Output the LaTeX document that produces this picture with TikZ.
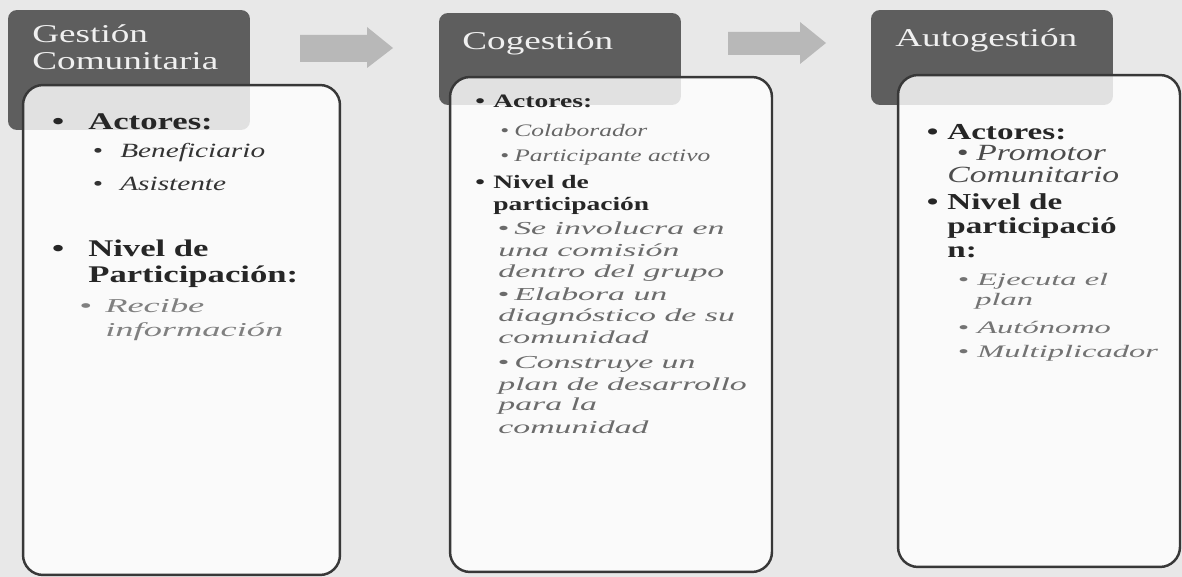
\documentclass[tikz,border=0pt]{standalone}
\usepackage{fontspec}
\setmainfont[FakeStretch=1.45]{Liberation Serif}
\newfontfamily\wideserif[FakeStretch=1.85]{Liberation Serif}
\usepackage{tikz}
\usetikzlibrary{positioning}

\begin{document}
\begin{tikzpicture}[x=0.02cm, y=-0.02cm,
        head/.style={rectangle, fill=black!63, rounded corners=0.18cm, minimum width=4.84cm},
        body/.style={rectangle, draw=black!78, line width=1.4pt, fill=white, fill opacity=0.82, rounded corners=0.4cm},
        txt/.style={anchor=base west, inner sep=0pt},
        hdtext/.style={txt, text=black!6, font=\fontsize{14.6}{16}\selectfont},
        bolda/.style={txt, text=black!85, font=\bfseries\fontsize{13.6}{16}\selectfont},
        boldb/.style={txt, text=black!85, font=\bfseries\fontsize{10.8}{13}\selectfont},
        boldc/.style={txt, text=black!85, font=\bfseries\fontsize{13}{15}\selectfont},
        itala/.style={txt, text=black!80, font=\itshape\fontsize{11.5}{14}\selectfont},
        italb/.style={txt, text=black!60, font=\itshape\fontsize{10}{12}\selectfont},
        italc/.style={txt, text=black!70, font=\itshape\fontsize{13.2}{15}\selectfont},
        widea/.style={txt, text=black!50, font=\wideserif\itshape\fontsize{11.2}{14}\selectfont},
        wideb/.style={txt, text=black!58, font=\wideserif\itshape\fontsize{10.4}{12}\selectfont},
        widec/.style={txt, text=black!55, font=\wideserif\itshape\fontsize{10}{12}\selectfont},
        blockarr/.style={fill=black!28}
    ]
        \useasboundingbox (0,0) rectangle (1182,577);
        \fill[black!9] (0,0) rectangle (1182,577);

        % Headers
        \node[head, minimum height=2.4cm] (head1) at (129,70) {};
        \node[head, minimum height=1.84cm] (head2) at (560,59) {};
        \node[head, minimum height=1.9cm] (head3) at (992,57.5) {};
        \node[hdtext] (t1a) at (32,43) {Gestión};
        \node[hdtext] (t1b) at (32,70) {Comunitaria};
        \node[hdtext] (t2) at (462,50) {Cogestión};
        \node[hdtext] (t3) at (895,47) {Autogestión};

        % Block arrows
        \fill[blockarr] (300,35) -- (367,35) -- (367,27) -- (393,48) -- (367,68) -- (367,62) -- (300,62) -- cycle;
        \fill[blockarr] (728,32) -- (800,32) -- (800,22) -- (826,43) -- (800,64) -- (800,55) -- (728,55) -- cycle;

        % Bodies
        \node[body, minimum width=6.34cm, minimum height=9.8cm] (body1) at (181.5,330) {};
        \node[body, minimum width=6.44cm, minimum height=9.9cm] (body2) at (611,324.5) {};
        \node[body, minimum width=5.64cm, minimum height=9.84cm] (body3) at (1039,321) {};

        % Gestion comunitaria
        \node[bolda] (act1) at (88,130) {\llap{\textbullet\hspace{13.7pt}}Actores:};
        \node[itala] (ben1) at (120,158) {\llap{\textbullet\hspace{10pt}}Beneficiario};
        \node[itala] (asi1) at (120,191) {\llap{\textbullet\hspace{10pt}}Asistente};
        \node[bolda] (niv1) at (88,256) {\llap{\textbullet\hspace{13.7pt}}Nivel de};
        \node[bolda] (par1) at (88,283) {Participación:};
        \node[widea] (rec1) at (105,313) {\llap{\textbullet\hspace{7.7pt}}Recibe};
        \node[widea] (inf1) at (105,337) {información};

        % Cogestion
        \node[boldb] (act2) at (493,108) {\llap{\textbullet\hspace{4.7pt}}Actores:};
        \node[italb] (col2) at (514,137) {\llap{\textbullet\hspace{3pt}}Colaborador};
        \node[italb] (pac2) at (514,162) {\llap{\textbullet\hspace{3pt}}Participante activo};
        \node[boldb] (niv2) at (493,189) {\llap{\textbullet\hspace{4.7pt}}Nivel de};
        \node[boldb] (par2) at (493,211) {participación};
        \node[wideb] (inv2a) at (514,235) {\llap{\textbullet\hspace{3pt}}Se involucra en};
        \node[wideb] (inv2b) at (498,257) {una comisión};
        \node[wideb] (inv2c) at (498,277) {dentro del grupo};
        \node[wideb] (ela2a) at (514,300) {\llap{\textbullet\hspace{3pt}}Elabora un};
        \node[wideb] (ela2b) at (498,321) {diagnóstico de su};
        \node[wideb] (ela2c) at (498,343) {comunidad};
        \node[wideb] (con2a) at (514,368) {\llap{\textbullet\hspace{3pt}}Construye un};
        \node[wideb] (con2b) at (498,390) {plan de desarrollo};
        \node[wideb] (con2c) at (498,410) {para la};
        \node[wideb] (con2d) at (498,433) {comunidad};

        % Autogestion
        \node[boldc] (act3) at (947,140) {\llap{\textbullet\hspace{5pt}}Actores:};
        \node[italc] (pro3a) at (976,161) {\llap{\textbullet\hspace{4.5pt}}Promotor};
        \node[italc] (pro3b) at (947,183) {Comunitario};
        \node[boldc] (niv3) at (947,210) {\llap{\textbullet\hspace{5pt}}Nivel de};
        \node[boldc] (par3a) at (947,234) {participació};
        \node[boldc] (par3b) at (947,258) {n:};
        \node[widec] (eje3a) at (977,286) {\llap{\textbullet\hspace{4.7pt}}Ejecuta el};
        \node[widec] (eje3b) at (975,305) {plan};
        \node[widec] (aut3) at (977,333) {\llap{\textbullet\hspace{4.7pt}}Autónomo};
        \node[widec] (mul3) at (977,357) {\llap{\textbullet\hspace{4.7pt}}Multiplicador};
    \end{tikzpicture}
\end{document}
